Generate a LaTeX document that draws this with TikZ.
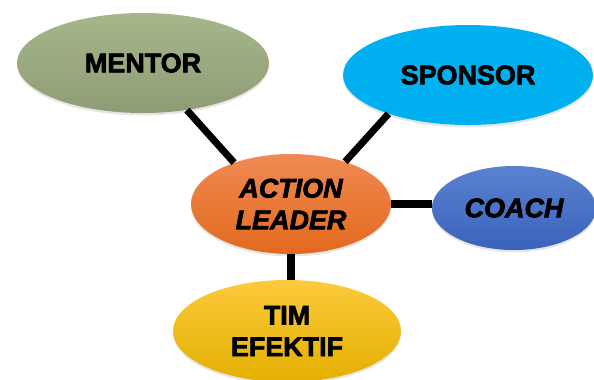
\documentclass[tikz,border=0pt]{standalone}
\usepackage{fontspec}
\setmainfont{Liberation Sans}[BoldFeatures={FakeBold=2.5},
    BoldItalicFeatures={FakeBold=2.5}]
\usetikzlibrary{shapes.geometric,shadows}

\definecolor{mentorTop}{HTML}{A6B78A}
\definecolor{mentorMid}{HTML}{9BC050}
\definecolor{mentorBot}{HTML}{8E9C76}
\definecolor{sponsorFill}{HTML}{00B0F0}
\definecolor{leaderTop}{HTML}{F08A52}
\definecolor{leaderMid}{HTML}{F27C30}
\definecolor{leaderBot}{HTML}{E2691E}
\definecolor{coachTop}{HTML}{5A82CF}
\definecolor{coachBot}{HTML}{3A62BC}
\definecolor{timTop}{HTML}{FCCA3C}
\definecolor{timMid}{HTML}{FFC000}
\definecolor{timBot}{HTML}{E3AF00}

\begin{document}
\begin{tikzpicture}[
    x=0.03cm, y=-0.03cm,
    bubble/.style={ellipse, inner sep=0pt, align=center,
        font=\fontsize{23}{27}\selectfont\bfseries,
        drop shadow={shadow xshift=0pt, shadow yshift=-2pt, opacity=0.2}},
    edge/.style={line width=6pt, -}
]
    \useasboundingbox (0,0) rectangle (594,379);
    \node[bubble, minimum width=7.56cm, minimum height=3cm,
        top color=mentorTop, middle color=mentorMid, bottom color=mentorBot]
        (mentor) at (143,63) {MENTOR};
    \node[bubble, minimum width=7.5cm, minimum height=3cm, fill=sponsorFill]
        (sponsor) at (468,75) {SPONSOR};
    \node[bubble, minimum width=6cm, minimum height=3cm,
        top color=leaderTop, middle color=leaderMid, bottom color=leaderBot]
        (leader) at (291,204) {\itshape ACTION\\\itshape LEADER};
    \node[bubble, minimum width=4.92cm, minimum height=2.52cm,
        top color=coachTop, bottom color=coachBot]
        (coach) at (514,208) {\itshape COACH};
    \node[bubble, minimum width=6.84cm, minimum height=3.06cm,
        top color=timTop, middle color=timMid, bottom color=timBot]
        (tim) at (287,331) {TIM\\EFEKTIF};
    \draw[edge] (mentor.-47) -- (leader.144);
    \draw[edge] (sponsor.-154) -- (leader.38);
    \draw[edge] (leader.east) -- (leader.east -| coach.west);
    \draw[edge] (leader.south) -- (leader.south |- tim.north);
\end{tikzpicture}
\end{document}
